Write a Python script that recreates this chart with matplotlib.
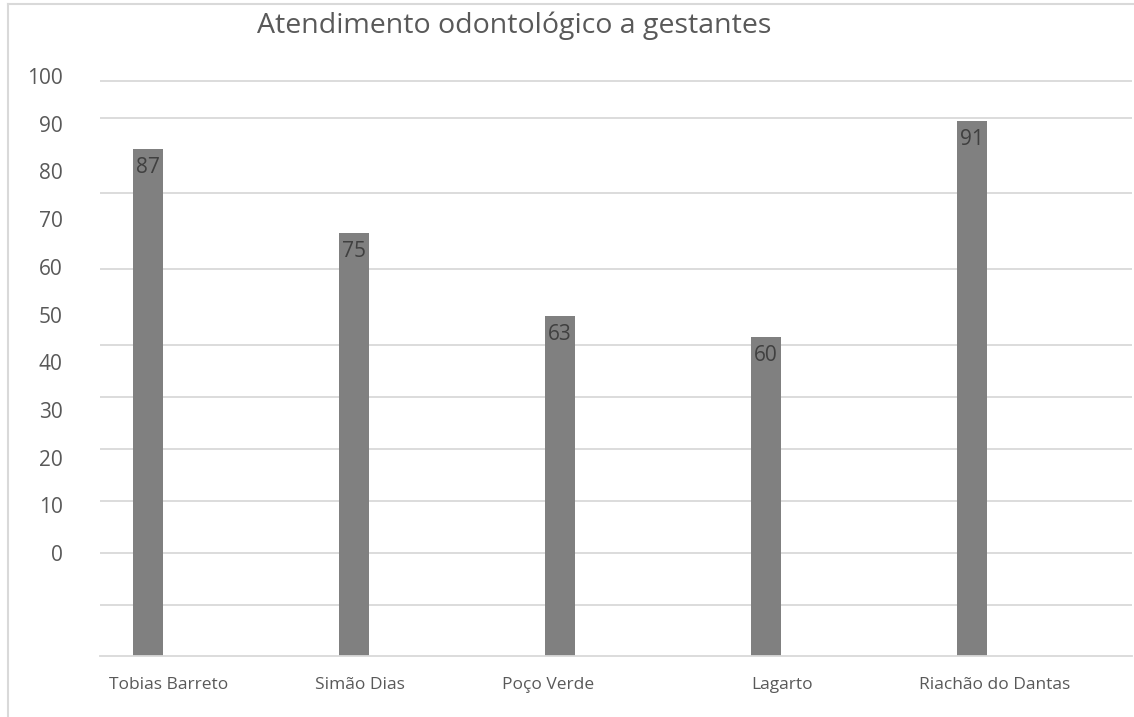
import numpy as np
import matplotlib
matplotlib.use("Agg")
import matplotlib.pyplot as plt
from matplotlib.lines import Line2D

plt.rcParams['font.family'] = ['Open Sans', 'DejaVu Sans']

# data
municipios = ['Tobias Barreto', 'Simão Dias', 'Poço Verde', 'Lagarto', 'Riachão do Dantas']
atendimentos = [87, 75, 63, 60, 91]
eixo_labels = [0, 10, 20, 30, 40, 50, 60, 70, 80, 90, 100]

# the drawn axis in the original is not linear with the labels, so these
# describe where things sit in bar units
base = 14.1                 # value at the bottom of the plot
grid_levels = [21.4, 28.9, 36.4, 43.9, 51.3, 58.8, 69.7, 80.7, 91.5, 96.8]
lab_zero, lab_step = 28.9, 0.686   # where label "0" is, units per label unit
label_shift = [0.10, 0.03, -0.06, 0.08, 0.11]

txt = '#595959'
grid = '#d9d9d9'

fig = plt.figure(figsize=(11.34, 7.17), dpi=100)
ax = fig.add_axes([100/1134, 61/717, 1032/1134, 596/717])

x = np.arange(len(municipios))
ax.bar(x, atendimentos, width=0.146, color='#808080', zorder=3)

for lv in grid_levels:
    ax.axhline(lv, color=grid, lw=1.3, zorder=1)
ax.axhline(base, color=grid, lw=1.3, zorder=4, clip_on=False)

for xi, v in zip(x, atendimentos):
    ax.annotate(str(v), (xi, v), xytext=(0, -13.5), textcoords='offset points',
                ha='center', va='center', fontsize=15, color='#404040', zorder=5)

ax.set_xlim(-0.233, 4.777)
ax.set_ylim(base, base + 596/6.954)
ax.set_yticks([])
ax.set_xticks(x + np.array(label_shift))
ax.set_xticklabels(municipios, fontsize=12.5, color=txt)
ax.tick_params(axis='x', length=0, pad=15)
for s in ax.spines.values():
    s.set_visible(False)

sec = ax.secondary_yaxis('left', functions=(lambda y: (y - lab_zero) / lab_step,
                                            lambda t: lab_zero + t * lab_step))
sec.set_yticks(eixo_labels)
sec.set_yticklabels([str(t) for t in eixo_labels], fontsize=15, color=txt)
sec.tick_params(length=0, pad=27)
sec.spines['left'].set_visible(False)

fig.text(514/1134, 1 - 26/717, 'Atendimento odontológico a gestantes',
         ha='center', va='center', fontsize=20.5, color=txt)

# chart border
fig.add_artist(Line2D([8/1134, 8/1134], [0, 1 - 4/717], color=grid, lw=1.5))
fig.add_artist(Line2D([8/1134, 1], [1 - 4/717, 1 - 4/717], color=grid, lw=1.5))

fig.savefig('out.png', dpi=100)
